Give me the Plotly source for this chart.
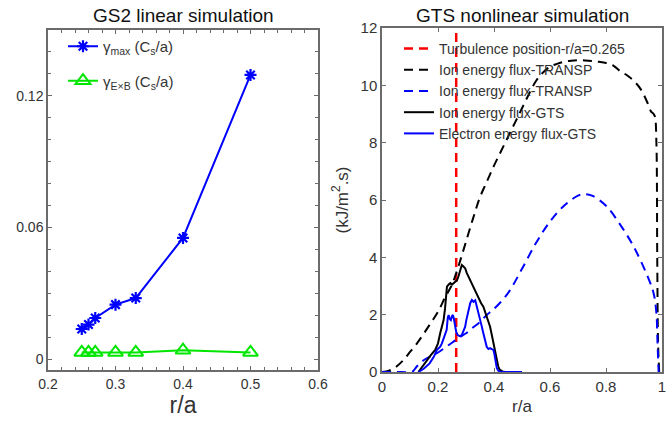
import plotly.graph_objects as go

# ---------------- data: left panel (GS2 linear) ----------------
ra_lin = [0.25, 0.26, 0.27, 0.30, 0.33, 0.40, 0.50]
gamma_max = [0.0137, 0.0157, 0.0187, 0.0248, 0.0278, 0.0552, 0.1295]
gamma_exb = [0.0030, 0.0030, 0.0030, 0.0030, 0.0030, 0.0040, 0.0030]

# ---------------- data: right panel (GTS nonlinear) ----------------
turb_pos = 0.265
turb_y = [0, 12]

ion_transp_x = [0, 0.025, 0.05, 0.075, 0.1, 0.125, 0.15, 0.175, 0.2, 0.225, 0.25, 0.275,
                0.3, 0.325, 0.35, 0.375, 0.4, 0.425, 0.45, 0.475, 0.5, 0.525, 0.55, 0.575,
                0.6, 0.625, 0.65, 0.675, 0.7, 0.725, 0.75, 0.775, 0.8, 0.825, 0.85, 0.875,
                0.9, 0.925, 0.95, 0.96, 0.97, 0.975, 0.98, 0.983, 0.986, 0.99]
ion_transp_y = [0, 0.05, 0.18, 0.4, 0.7, 1.0, 1.35, 1.72, 2.1, 2.6, 3.05, 3.75,
                4.55, 5.35, 6.1, 6.65, 7.2, 7.7, 8.2, 8.7, 9.2, 9.7, 10.15, 10.45,
                10.65, 10.75, 10.82, 10.86, 10.88, 10.87, 10.85, 10.82, 10.78, 10.7, 10.5, 10.35,
                10.15, 9.85, 9.35, 9.1, 9.0, 8.9, 8.0, 4.0, 1.0, 0]

ele_transp_x = [0, 0.05, 0.1, 0.11, 0.125, 0.15, 0.175, 0.2, 0.225, 0.25, 0.275, 0.3,
                0.325, 0.35, 0.375, 0.4, 0.45, 0.5, 0.55, 0.6, 0.65, 0.7, 0.72, 0.75,
                0.8, 0.85, 0.9, 0.95, 0.97, 0.98, 0.984, 0.988]
ele_transp_y = [0, 0, 0, 0.02, 0.2, 0.42, 0.55, 0.68, 0.85, 1.02, 1.2, 1.35,
                1.55, 1.75, 2.0, 2.2, 2.75, 3.6, 4.5, 5.25, 5.8, 6.15, 6.2, 6.15,
                5.8, 5.15, 4.35, 3.3, 2.75, 2.05, 1.0, 0]

ion_gts_x = [0.13, 0.145, 0.16, 0.175, 0.19, 0.2, 0.208, 0.215, 0.22, 0.225, 0.228, 0.232,
             0.238, 0.244, 0.25, 0.256, 0.262, 0.268, 0.273, 0.279, 0.285, 0.291, 0.297,
             0.303, 0.31, 0.315, 0.322, 0.33, 0.338, 0.346, 0.354, 0.362, 0.37, 0.378,
             0.386, 0.392, 0.398, 0.404, 0.41, 0.415, 0.42, 0.43, 0.44, 0.45]
ion_gts_y = [0, 0.2, 0.42, 0.6, 0.77, 1.0, 1.36, 1.6, 1.81, 2.2, 2.63, 2.98,
             3.05, 3.1, 3.05, 3.1, 3.15, 3.2, 3.33, 3.5, 3.73, 3.68, 3.62,
             3.45, 3.3, 3.21, 3.05, 2.9, 2.74, 2.55, 2.4, 2.28, 2.05, 1.8,
             1.58, 1.3, 1.0, 0.77, 0.4, 0.2, 0.08, 0.02, 0.0, 0.0]

ele_gts_x = [0.13, 0.15, 0.17, 0.185, 0.196, 0.208, 0.214, 0.219, 0.225, 0.231, 0.235,
             0.238, 0.242, 0.246, 0.25, 0.253, 0.257, 0.261, 0.265, 0.27, 0.278, 0.285,
             0.291, 0.297, 0.301, 0.305, 0.31, 0.315, 0.321, 0.327, 0.333, 0.338, 0.344,
             0.35, 0.356, 0.362, 0.368, 0.374, 0.38, 0.386, 0.392, 0.398, 0.401, 0.404,
             0.407, 0.41, 0.415, 0.42, 0.43, 0.45, 0.5]
ele_gts_y = [0, 0.12, 0.3, 0.53, 0.77, 0.88, 1.0, 1.12, 1.3, 1.47, 1.9,
             1.99, 1.85, 1.81, 1.95, 1.99, 1.85, 1.58, 1.4, 1.29, 1.25, 1.29,
             1.45, 1.58, 1.8, 1.99, 2.2, 2.4, 2.51, 2.45, 2.5, 2.28, 2.05,
             1.81, 1.6, 1.35, 1.1, 0.88, 0.8, 0.83, 0.8, 0.77, 0.65, 0.42,
             0.25, 0.14, 0.05, 0.02, 0, 0, 0]

FONT = "Liberation Sans, Arial, Helvetica, sans-serif"
AX = "#6b6b6b"
TXT = "#333333"
BLUE, GREEN, RED, BLACK = "#0000ff", "#00e600", "#ff0000", "#000000"

fig = go.Figure()

# left panel
fig.add_trace(go.Scatter(
    x=ra_lin, y=gamma_max, mode="lines+markers", xaxis="x", yaxis="y",
    name="γ<sub>max</sub> (C<sub>s</sub>/a)", legend="legend", legendgroup="a",
    line=dict(color=BLUE, width=2),
    marker=dict(symbol="asterisk-open", size=10, line=dict(color=BLUE, width=2.2))))
fig.add_trace(go.Scatter(
    x=ra_lin, y=gamma_exb, mode="lines+markers", xaxis="x", yaxis="y",
    name="γ<sub>E×B</sub> (C<sub>s</sub>/a)", legend="legend", legendgroup="b",
    line=dict(color=GREEN, width=2),
    marker=dict(symbol="triangle-up-open", size=13, line=dict(color=GREEN, width=2))))

# right panel
fig.add_trace(go.Scatter(
    x=[turb_pos, turb_pos], y=turb_y, mode="lines", xaxis="x2", yaxis="y2",
    name="Turbulence position-r/a=0.265", legend="legend2",
    line=dict(color=RED, width=2.5, dash="9px,6px")))
fig.add_trace(go.Scatter(
    x=ion_transp_x, y=ion_transp_y, mode="lines", xaxis="x2", yaxis="y2",
    name="Ion energy flux-TRANSP", legend="legend2", line_shape="spline",
    line=dict(color=BLACK, width=2, dash="9px,6px")))
fig.add_trace(go.Scatter(
    x=ele_transp_x, y=ele_transp_y, mode="lines", xaxis="x2", yaxis="y2",
    name="Ion energy flux-TRANSP", legend="legend2", line_shape="spline",
    line=dict(color=BLUE, width=2, dash="9px,6px")))
fig.add_trace(go.Scatter(
    x=ion_gts_x, y=ion_gts_y, mode="lines", xaxis="x2", yaxis="y2",
    name="Ion energy flux-GTS", legend="legend2",
    line=dict(color=BLACK, width=2)))
fig.add_trace(go.Scatter(
    x=ele_gts_x, y=ele_gts_y, mode="lines", xaxis="x2", yaxis="y2",
    name="Electron energy flux-GTS", legend="legend2",
    line=dict(color=BLUE, width=2)))

axis_common = dict(showline=True, linecolor=AX, linewidth=1.5, mirror="allticks",
                   ticks="inside", tickcolor=AX, ticklen=4, tickwidth=1, automargin=False,
                   showgrid=False, zeroline=False)

fig.update_layout(
    width=669, height=424,
    margin=dict(l=0, r=0, t=0, b=0, autoexpand=False),
    paper_bgcolor="white", plot_bgcolor="white",
    font=dict(family=FONT, color=TXT),
    xaxis=dict(domain=[48/669, 318/669], range=[0.2, 0.6], tickvals=[0.2, 0.3, 0.4, 0.5, 0.6],
               ticktext=["0.2", "0.3", "0.4", "0.5", "0.6"],
               minor=dict(dtick=0.02, ticks="inside", ticklen=3, tickcolor=AX),
               title=dict(text="r/a", font=dict(size=23, family=FONT, color=TXT), standoff=4),
               anchor="y", tickfont=dict(family=FONT, color=TXT, size=14), **axis_common),
    yaxis=dict(domain=[(424-370)/424, (424-30)/424], range=[-0.005, 0.15],
               tickvals=[0, 0.06, 0.12], ticktext=["0", "0.06", "0.12"],
               minor=dict(dtick=0.01, tick0=0, ticks="inside", ticklen=3, tickcolor=AX),
               anchor="x", tickfont=dict(family=FONT, color=TXT, size=14), **axis_common),
    xaxis2=dict(domain=[382/669, 662/669], range=[0, 1],
                tickvals=[0, 0.2, 0.4, 0.6, 0.8, 1], ticktext=["0", "0.2", "0.4", "0.6", "0.8", "1"],
                title=dict(text="r/a", font=dict(size=17, family=FONT, color=TXT), standoff=6),
                anchor="y2", tickfont=dict(family=FONT, color=TXT, size=15), **axis_common),
    yaxis2=dict(domain=[(424-372)/424, (424-28)/424], range=[0, 12], dtick=2,
                title=dict(text="(kJ/m<sup>2</sup>.s)", font=dict(size=17, family=FONT, color=TXT),
                           standoff=8),
                anchor="x2", tickfont=dict(family=FONT, color=TXT, size=15), **axis_common),
    legend=dict(x=63/669, y=1-30/424, xanchor="left", yanchor="top",
                bgcolor="rgba(0,0,0,0)", borderwidth=0, traceorder="grouped",
                tracegroupgap=12, font=dict(family=FONT, size=15, color=TXT), itemwidth=30),
    legend2=dict(x=399/669, y=1-33/424, xanchor="left", yanchor="top",
                 bgcolor="rgba(0,0,0,0)", borderwidth=0, tracegroupgap=0,
                 font=dict(family=FONT, size=14, color=TXT), itemwidth=30),
    annotations=[
        dict(text="GS2 linear simulation", x=(48+318)/2/669, y=1-16/424, xref="paper", yref="paper",
             xanchor="center", yanchor="middle",
             showarrow=False, font=dict(family=FONT, size=19, color="#111")),
        dict(text="GTS nonlinear simulation", x=(382+662)/2/669, y=1-16/424, xref="paper", yref="paper",
             xanchor="center", yanchor="middle",
             showarrow=False, font=dict(family=FONT, size=19, color="#111")),
    ],
)

fig.write_html("out.html", config={"displayModeBar": False},
               post_script="document.body.style.margin='0';document.body.style.overflow='hidden';")
